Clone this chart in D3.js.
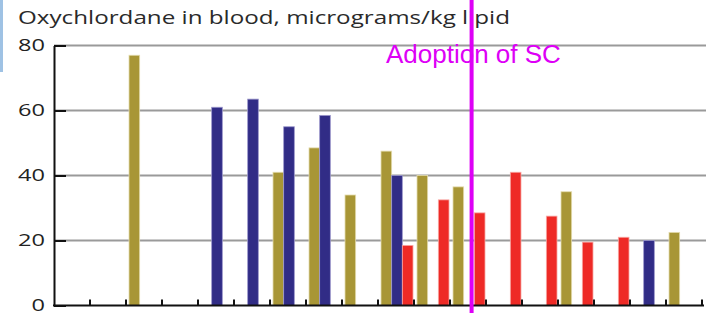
<!DOCTYPE html>
<html>
<head>
<meta charset="utf-8">
<script src="https://cdn.jsdelivr.net/npm/d3@7"></script>
<style>
  body { margin: 0; background: #fff; }
  svg { display: block; }
</style>
</head>
<body>
<div id="chart"></div>
<script>
// one slot per tick interval along the x axis (no labels in the original)
const slots = d3.range(18);
const series = ["gold", "blue", "red"];
const goldValues = [null, null, 77, null, null, null, 41, 48.5, 34, 47.5, 40, 36.5, null, null, 35, null, null, 22.5];
const blueValues = [null, null, null, null, 61, 63.5, 55, 58.5, null, 40, null, null, null, null, null, null, 20, null];
const redValues = [null, null, null, null, null, null, null, null, null, 18.5, 32.5, 28.5, 41, 27.5, 19.5, 21, null, null];
const yTicks = [0, 20, 40, 60, 80];
const adoptionSlot = 11.6; // where the "Adoption of SC" line sits, in slot units
const titleText = "Oxychlordane in blood, micrograms/kg lipid";
const adoptionText = "Adoption of SC";

const colors = { gold: "#a89636", blue: "#312c86", red: "#ee2a26" };
const edges = { gold: "#e4dcae", blue: "#9c98cc", red: "#f8a8a4" };

const width = 706, height = 313;
const margin = { top: 46, right: 4, bottom: 8, left: 54 };

const svg = d3.select("#chart").append("svg")
    .attr("width", width)
    .attr("height", height);

// left edge strip from the slide
svg.append("rect")
    .attr("x", 0).attr("y", 0)
    .attr("width", 3).attr("height", 72)
    .attr("fill", "#9fc2e4");

const x = d3.scaleBand()
    .domain(slots)
    .range([margin.left, margin.left + 36 * slots.length])
    .padding(0);

const sub = d3.scaleBand()
    .domain(series)
    .range([3, 35])
    .padding(0);

const y = d3.scaleLinear()
    .domain([0, 80])
    .range([305.5, 45.5]);

// gridlines
svg.append("g")
    .selectAll("line")
    .data(yTicks.filter(t => t > 0))
    .enter().append("line")
    .attr("x1", margin.left)
    .attr("x2", width)
    .attr("y1", d => y(d))
    .attr("y2", d => y(d))
    .attr("stroke", "#9a9a9a")
    .attr("stroke-width", 2);

// y axis, ticks pointing inward
const yAxis = svg.append("g")
    .attr("transform", `translate(${margin.left},0)`)
    .call(d3.axisLeft(y).tickValues(yTicks).tickSizeInner(-12).tickSizeOuter(0).tickPadding(9));
yAxis.select(".domain").attr("stroke", "#111").attr("stroke-width", 2);
yAxis.selectAll(".tick line").attr("stroke", "#111").attr("stroke-width", 2);
yAxis.selectAll(".tick text")
    .attr("fill", "#222")
    .style("font-family", "'Open Sans', sans-serif")
    .style("font-size", "17px")
    .attr("lengthAdjust", "spacingAndGlyphs")
    .attr("textLength", d => String(d).length * 13.5);

// bars
const table = [];
slots.forEach(i => {
    [["gold", goldValues], ["blue", blueValues], ["red", redValues]].forEach(([s, vals]) => {
        if (vals[i] != null) table.push({ slot: i, series: s, value: vals[i] });
    });
});

svg.append("g")
    .selectAll("rect")
    .data(table)
    .enter().append("rect")
    .attr("x", d => x(d.slot) + sub(d.series))
    .attr("width", sub.bandwidth())
    .attr("y", d => y(d.value))
    .attr("height", d => y(0) - y(d.value))
    .attr("fill", d => colors[d.series])
    .attr("stroke", d => edges[d.series])
    .attr("stroke-width", 0.8);

// x axis with short upward ticks
const xAxis = svg.append("g")
    .attr("transform", `translate(0,${y(0)})`);
xAxis.append("line")
    .attr("x1", margin.left - 1)
    .attr("x2", x.range()[1] + 2)
    .attr("stroke", "#111")
    .attr("stroke-width", 2);
xAxis.selectAll(".xt")
    .data(slots)
    .enter().append("line")
    .attr("class", "xt")
    .attr("x1", d => x(d) + x.bandwidth())
    .attr("x2", d => x(d) + x.bandwidth())
    .attr("y1", 0)
    .attr("y2", -6)
    .attr("stroke", "#111")
    .attr("stroke-width", 2);

// title
svg.append("text")
    .attr("x", 18)
    .attr("y", 24)
    .attr("fill", "#2a2a2a")
    .style("font-family", "'Open Sans', sans-serif")
    .style("font-size", "19px")
    .attr("lengthAdjust", "spacingAndGlyphs")
    .attr("textLength", 492)
    .text(titleText);

// adoption marker
const slotPos = d3.scaleLinear()
    .domain([0, slots.length])
    .range(x.range());
svg.append("line")
    .attr("x1", slotPos(adoptionSlot))
    .attr("x2", slotPos(adoptionSlot))
    .attr("y1", 0)
    .attr("y2", height)
    .attr("stroke", "#dd00f6")
    .attr("stroke-width", 4);

svg.append("text")
    .attr("x", 386)
    .attr("y", 63)
    .attr("fill", "#dd00f6")
    .style("font-family", "'Liberation Sans', Arial, sans-serif")
    .style("font-size", "26px")
    .text(adoptionText);
</script>
</body>
</html>
